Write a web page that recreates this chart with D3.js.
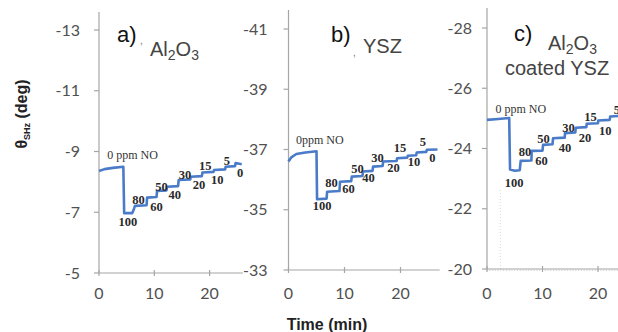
<!DOCTYPE html>
<html><head><meta charset="utf-8">
<script src="https://cdn.jsdelivr.net/npm/d3@7"></script>
<style>html,body{margin:0;padding:0;background:#fff;}svg{display:block}</style>
</head><body>
<svg id="chart" width="618" height="332"></svg>
<script>
// ---------- data ----------
const xTicks = [0, 10, 20];
const yTicksA = [-13, -11, -9, -7, -5];
const yTicksB = [-41, -39, -37, -35, -33];
const yTicksC = [-28, -26, -24, -22, -20];

const timeA  = [0, 1, 2.5, 4.4, 4.55, 6.0, 6.3, 6.5, 8.6, 8.7, 10.4, 10.5, 12.2, 12.3, 14.3, 14.4, 16.5, 16.6, 18.6, 18.7, 20.7, 20.8, 22.8, 22.9, 24.6, 24.7, 25.8];
const thetaA = [-8.36, -8.42, -8.46, -8.5, -6.97, -6.97, -7.1, -7.21, -7.23, -7.48, -7.5, -7.7, -7.72, -7.84, -7.86, -8.06, -8.08, -8.17, -8.19, -8.31, -8.33, -8.39, -8.41, -8.5, -8.52, -8.62, -8.58];

const timeB  = [0, 0.5, 1.4, 3.0, 5.0, 5.1, 6.8, 6.9, 9.1, 9.2, 11.2, 11.3, 13.2, 13.3, 15.0, 15.1, 16.8, 16.9, 19.3, 19.4, 21.2, 21.3, 22.8, 22.9, 24.6, 24.7, 26.6];
const thetaB = [-36.6, -36.74, -36.85, -36.9, -36.94, -35.35, -35.37, -35.6, -35.62, -35.93, -35.95, -36.1, -36.12, -36.27, -36.29, -36.43, -36.45, -36.6, -36.62, -36.71, -36.73, -36.79, -36.81, -36.9, -36.92, -36.99, -37.0];

const timeC  = [0, 2, 4.0, 4.15, 5.0, 5.9, 6.07, 8.0, 8.05, 10.0, 10.1, 11.8, 11.9, 14.0, 14.05, 15.9, 16.0, 17.9, 17.96, 20.0, 20.05, 22.1, 22.2, 23.6];
const thetaC = [-24.95, -24.98, -25.01, -23.3, -23.26, -23.28, -23.59, -23.6, -23.92, -23.93, -24.12, -24.14, -24.34, -24.36, -24.51, -24.53, -24.69, -24.71, -24.82, -24.84, -24.93, -24.95, -25.06, -25.08];

const labelTextA  = ["0 ppm NO", "100", "80", "60", "50", "40", "30", "20", "15", "10", "5", "0"];
const labelTimeA  = [6.06, 5.24, 7.14, 10.4, 11.3, 13.7, 15.55, 18.1, 19.2, 21.4, 23.1, 25.5];
const labelThetaA = [-8.75, -6.55, -7.27, -7.04, -7.70, -7.43, -8.09, -7.76, -8.39, -7.93, -8.55, -8.16];

const labelTextB  = ["0ppm NO", "100", "80", "60", "50", "40", "30", "20", "15", "10", "5", "0"];
const labelTimeB  = [5.6, 6.0, 7.7, 10.7, 12.3, 14.3, 15.9, 18.75, 19.9, 22.4, 24.0, 25.7];
const labelThetaB = [-37.19, -34.99, -35.77, -35.54, -36.22, -35.91, -36.59, -36.24, -36.92, -36.46, -37.10, -36.59];

const labelTextC  = ["0 ppm NO", "100", "80", "60", "50", "40", "30", "20", "15", "10", "5"];
const labelTimeC  = [6.1, 4.9, 6.85, 9.8, 10.2, 14.05, 14.7, 17.65, 18.65, 21.3, 23.4];
const labelThetaC = [-25.17, -22.72, -23.75, -23.46, -24.19, -23.87, -24.55, -24.22, -24.92, -24.45, -25.15];

const timeDomainA = [0, 26];
const timeDomainB = [0, 27];
const timeDomainC = [0, 23.6];

// ---------- layout ----------
const panels = [
  {t: timeA, v: thetaA, lt: labelTextA, lx: labelTimeA, ly: labelThetaA, yt: yTicksA, xd: timeDomainA,
   xr: [99, 242.8], yr: [273, 30], axisTop: 12, gap: 19, minor: false},
  {t: timeB, v: thetaB, lt: labelTextB, lx: labelTimeB, ly: labelThetaB, yt: yTicksB, xd: timeDomainB,
   xr: [288.5, 439.7], yr: [270, 29], axisTop: 10, gap: 21, minor: false},
  {t: timeC, v: thetaC, lt: labelTextC, lx: labelTimeC, ly: labelThetaC, yt: yTicksC, xd: timeDomainC,
   xr: [487, 618], yr: [269, 28], axisTop: 8, gap: 15, minor: true}
];

const svg = d3.select("#chart");
const axisColor = "#a6a6a6";
const lineColor = "#4a7bc8";

panels.forEach((p, i) => {
  const x = d3.scaleLinear().domain(p.xd).range(p.xr);
  const y = d3.scaleLinear().domain([p.yt[p.yt.length - 1], p.yt[0]]).range(p.yr);
  const g = svg.append("g");
  const y0 = p.yr[0];

  // dotted faint guide in panel c
  if (i === 2) {
    g.append("line").attr("x1", x(2.4)).attr("x2", x(2.4)).attr("y1", 190).attr("y2", y0)
      .attr("stroke", "#d8d8d8").attr("stroke-width", 1).attr("stroke-dasharray", "1,2");
  }

  // y axis
  g.append("line").attr("x1", p.xr[0]).attr("x2", p.xr[0]).attr("y1", p.axisTop).attr("y2", y0)
    .attr("stroke", axisColor).attr("stroke-width", 1.2);
  p.yt.forEach(v => {
    g.append("line").attr("x1", p.xr[0] - 5).attr("x2", p.xr[0]).attr("y1", y(v)).attr("y2", y(v))
      .attr("stroke", axisColor).attr("stroke-width", 1.2);
    g.append("text").attr("x", p.xr[0] - p.gap).attr("y", y(v)).attr("dy", "0.35em")
      .attr("text-anchor", "end").attr("font-family", "Lato, 'Open Sans', sans-serif")
      .attr("font-size", 16).attr("fill", "#505050").text(v);
  });

  // x axis
  g.append("line").attr("x1", p.xr[0]).attr("x2", p.xr[1]).attr("y1", y0).attr("y2", y0)
    .attr("stroke", axisColor).attr("stroke-width", 1.2);
  if (p.minor) {
    d3.range(p.xd[0], p.xd[1], 0.5).forEach(t => {
      g.append("line").attr("x1", x(t)).attr("x2", x(t)).attr("y1", y0).attr("y2", y0 + 2)
        .attr("stroke", "#c8c8c8").attr("stroke-width", 0.8);
    });
  }
  xTicks.forEach(t => {
    g.append("line").attr("x1", x(t)).attr("x2", x(t)).attr("y1", y0 - 3).attr("y2", y0 + 3)
      .attr("stroke", axisColor).attr("stroke-width", 1.2);
    g.append("text").attr("x", x(t)).attr("y", 299).attr("text-anchor", "middle")
      .attr("font-family", "Lato, 'Open Sans', sans-serif").attr("font-size", 16).attr("fill", "#505050").text(t);
  });

  // line
  const pts = p.t.map((t, k) => [t, p.v[k]]);
  g.append("path").datum(pts)
    .attr("d", d3.line().x(d => x(d[0])).y(d => y(d[1])))
    .attr("fill", "none").attr("stroke", lineColor).attr("stroke-width", 2.6)
    .attr("stroke-linejoin", "round");

  // labels
  p.lt.forEach((txt, k) => {
    g.append("text").attr("x", x(p.lx[k])).attr("y", y(p.ly[k])).attr("text-anchor", "middle")
      .attr("font-family", "'Liberation Serif', 'DejaVu Serif', serif")
      .attr("font-size", k === 0 ? 12 : 12.5).attr("font-weight", k === 0 ? "normal" : "bold")
      .attr("fill", k === 0 ? "#333" : "#2a2a2a").text(txt);
  });
});

// ---------- panel titles ----------
const sans = "'Liberation Sans', Arial, sans-serif";
function chem(x, yb) {
  const t = svg.append("text").attr("x", x).attr("y", yb).attr("font-family", sans).attr("font-size", 20).attr("fill", "#444");
  t.append("tspan").text("Al");
  t.append("tspan").attr("font-size", 14).attr("dy", 4).text("2");
  t.append("tspan").attr("dy", -4).text("O");
  t.append("tspan").attr("font-size", 14).attr("dy", 4).text("3");
}
svg.append("text").attr("x", 117).attr("y", 42).attr("font-family", sans).attr("font-size", 22).attr("fill", "#111").text("a)");
svg.append("text").attr("x", 140).attr("y", 44).attr("font-family", sans).attr("font-size", 10).attr("fill", "#777").text(",");
chem(150, 56);

svg.append("text").attr("x", 331).attr("y", 42).attr("font-family", sans).attr("font-size", 22).attr("fill", "#111").text("b)");
svg.append("text").attr("x", 353).attr("y", 56).attr("font-family", sans).attr("font-size", 10).attr("fill", "#777").text(",");
svg.append("text").attr("x", 363).attr("y", 53).attr("font-family", sans).attr("font-size", 20).attr("fill", "#444").text("YSZ");

svg.append("text").attr("x", 514).attr("y", 41).attr("font-family", sans).attr("font-size", 22).attr("fill", "#111").text("c)");
chem(548, 50);
svg.append("text").attr("x", 505).attr("y", 75).attr("font-family", sans).attr("font-size", 20).attr("fill", "#444").text("coated YSZ");

// ---------- axis titles ----------
svg.append("text").attr("x", 327).attr("y", 330).attr("text-anchor", "middle")
  .attr("font-family", sans).attr("font-size", 16).attr("font-weight", "bold").attr("fill", "#222").text("Time (min)");
{
  const t = svg.append("text").attr("transform", "translate(27,114) rotate(-90)").attr("text-anchor", "middle")
    .attr("font-family", sans).attr("font-size", 16).attr("font-weight", "bold").attr("fill", "#222");
  t.append("tspan").text("θ");
  t.append("tspan").attr("font-size", 9).attr("dy", 3).text("SHz");
  t.append("tspan").attr("dy", -3).text(" (deg)");
}
</script>
</body></html>
